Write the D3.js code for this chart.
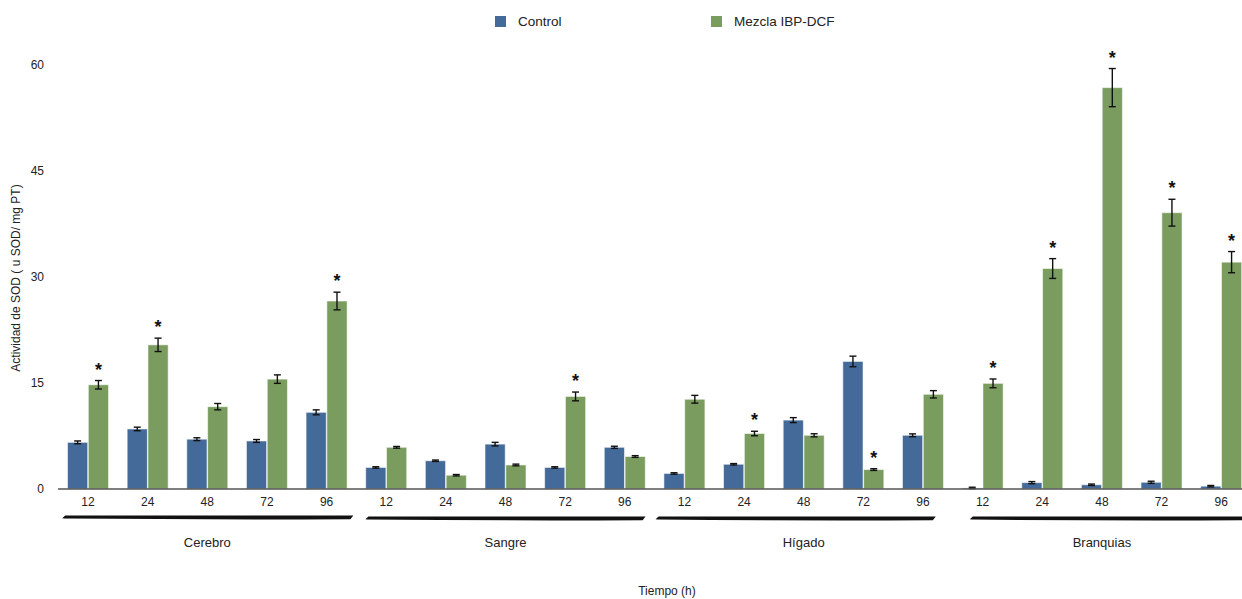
<!DOCTYPE html>
<html>
<head>
<meta charset="utf-8">
<script src="https://cdn.jsdelivr.net/npm/d3@7/dist/d3.min.js"></script>
<style>
  html, body { margin: 0; padding: 0; background: #fff; }
  svg { display: block; font-family: "Liberation Sans", Arial, Helvetica, sans-serif; }
</style>
</head>
<body>
<svg id="chart" width="1242" height="599"></svg>
<script>
// Tissues and sampling times (h)
const tissues = ["Cerebro", "Sangre", "Hígado", "Branquias"];
const times = ["12", "24", "48", "72", "96"];
const seriesNames = ["Control", "Mezcla IBP-DCF"];
const seriesColors = ["#436a99", "#7a9c5e"];

// SOD activity (u SOD / mg PT), ordered tissue by tissue, time by time
const controlValues = [6.6, 8.5, 7.05, 6.8, 10.85,
                       3.05, 4.0, 6.35, 3.05, 5.9,
                       2.2, 3.5, 9.75, 18.05, 7.6,
                       0.15, 0.9, 0.6, 0.95, 0.4];
const controlErrors = [0.2, 0.25, 0.2, 0.2, 0.35,
                       0.1, 0.1, 0.25, 0.1, 0.15,
                       0.1, 0.1, 0.35, 0.75, 0.2,
                       0.1, 0.15, 0.1, 0.15, 0.1];
const mezclaValues = [14.75, 20.4, 11.65, 15.55, 26.6,
                      5.9, 1.95, 3.4, 13.1, 4.6,
                      12.7, 7.85, 7.6, 2.75, 13.4,
                      14.95, 31.2, 56.8, 39.1, 32.1];
const mezclaErrors = [0.6, 0.95, 0.45, 0.6, 1.25,
                      0.12, 0.1, 0.12, 0.62, 0.12,
                      0.55, 0.32, 0.22, 0.12, 0.52,
                      0.62, 1.4, 2.7, 1.9, 1.5];
// Significant difference vs. control (asterisk over the treated bar)
const significant = [1, 1, 0, 0, 1,
                     0, 0, 0, 1, 0,
                     0, 1, 0, 1, 0,
                     1, 1, 1, 1, 1];
const yTicks = [0, 15, 30, 45, 60];

const svg = d3.select("#chart");

const categories = [];
tissues.forEach((t, ti) => times.forEach((h, hi) => {
  const i = ti * times.length + hi;
  categories.push({
    key: t + "-" + h, tissue: t, time: h,
    values: [
      { s: 0, v: controlValues[i], e: controlErrors[i], sig: 0 },
      { s: 1, v: mezclaValues[i], e: mezclaErrors[i], sig: significant[i] }
    ]
  });
}));

const x0 = d3.scaleBand().domain(categories.map(d => d.key)).range([58.2, 1251]);
const bw = x0.bandwidth();
const x1 = d3.scaleBand().domain([0, 1]).range([bw / 2 - 20.5, bw / 2 + 20.5]).paddingInner(0.03);
const y = d3.scaleLinear().domain([0, 60]).range([489, 65]);

// Y tick labels (no axis line)
const yAxis = d3.axisLeft(y).tickValues(yTicks).tickSize(0).tickPadding(0);
const yg = svg.append("g").attr("transform", "translate(44,0)").call(yAxis);
yg.select(".domain").remove();
yg.selectAll("text").attr("font-size", 12).attr("fill", "#222")
  .attr("font-family", "Liberation Sans, Arial, sans-serif");

// Bars
const catG = svg.selectAll("g.cat").data(categories).join("g")
  .attr("class", "cat")
  .attr("transform", d => `translate(${x0(d.key)},0)`);

catG.selectAll("rect").data(d => d.values).join("rect")
  .attr("x", d => x1(d.s))
  .attr("width", x1.bandwidth())
  .attr("y", d => y(d.v))
  .attr("height", d => y(0) - y(d.v))
  .attr("fill", d => seriesColors[d.s])
  .attr("stroke", "rgba(255,255,255,0.55)")
  .attr("stroke-width", 1);

// Error bars
const eb = catG.selectAll("g.err").data(d => d.values).join("g").attr("class", "err")
  .attr("stroke", "#111").attr("stroke-width", 1.4);
eb.append("line")
  .attr("x1", d => x1(d.s) + x1.bandwidth() / 2)
  .attr("x2", d => x1(d.s) + x1.bandwidth() / 2)
  .attr("y1", d => y(d.v + d.e)).attr("y2", d => y(Math.max(0, d.v - d.e)));
[1, -1].forEach(sign => {
  eb.append("line")
    .attr("x1", d => x1(d.s) + x1.bandwidth() / 2 - 3.5)
    .attr("x2", d => x1(d.s) + x1.bandwidth() / 2 + 3.5)
    .attr("y1", d => y(Math.max(0, d.v + sign * d.e)))
    .attr("y2", d => y(Math.max(0, d.v + sign * d.e)));
});

// Significance asterisks
catG.selectAll("text.sig").data(d => d.values.filter(v => v.sig)).join("text")
  .attr("class", "sig")
  .attr("x", d => x1(d.s) + x1.bandwidth() / 2)
  .attr("y", d => y(d.v + d.e) - 5)
  .attr("text-anchor", "middle")
  .attr("font-size", 18).attr("font-weight", "bold").attr("fill", "#111")
  .text("*");

// Baseline
svg.append("line").attr("x1", 58).attr("x2", 1242)
  .attr("y1", y(0)).attr("y2", y(0))
  .attr("stroke", "#555").attr("stroke-width", 1.5);

// Time tick labels
svg.append("g").selectAll("text").data(categories).join("text")
  .attr("x", d => x0(d.key) + bw / 2)
  .attr("y", 506)
  .attr("text-anchor", "middle")
  .attr("font-size", 12).attr("fill", "#222")
  .text(d => d.time);

// Tissue brackets (brush-like strokes with slanted ends) and labels
const bracketInset = [[4, 3], [9, 9], [1, 17], [17, 0]];
const bracketY = [517, 518, 518, 518];
tissues.forEach((t, ti) => {
  const first = x0(t + "-" + times[0]);
  const last = x0(t + "-" + times[times.length - 1]) + bw;
  const a = first + bracketInset[ti][0];
  const b = last - bracketInset[ti][1];
  const yb = bracketY[ti];
  const p = d3.path();
  p.moveTo(a + 3, yb - 1.6);
  p.lineTo(b, yb - 1.4);
  p.lineTo(b - 3, yb + 2.2);
  p.quadraticCurveTo((a + b) / 2, yb + 2.8, a + 2, yb + 1.6);
  p.lineTo(a, yb + 1.2);
  p.closePath();
  svg.append("path").attr("d", p.toString()).attr("fill", "#111");

  svg.append("text")
    .attr("x", (first + last) / 2)
    .attr("y", 547)
    .attr("text-anchor", "middle")
    .attr("font-size", 13).attr("fill", "#222")
    .text(t);
});

// Axis titles
svg.append("text")
  .attr("x", 667).attr("y", 595)
  .attr("text-anchor", "middle")
  .attr("font-size", 12).attr("fill", "#222")
  .text("Tiempo (h)");
svg.append("text")
  .attr("transform", "translate(20,278) rotate(-90)")
  .attr("text-anchor", "middle")
  .attr("font-size", 12).attr("fill", "#222")
  .text("Actividad de SOD ( u SOD/ mg PT)");

// Legend
const legendX = [495, 711];
const lg = svg.append("g").selectAll("g").data(seriesNames).join("g")
  .attr("transform", (d, i) => `translate(${legendX[i]},16)`);
lg.append("rect").attr("width", 11).attr("height", 11)
  .attr("fill", (d, i) => seriesColors[i]);
lg.append("text").attr("x", 23).attr("y", 10)
  .attr("font-size", 13.5).attr("fill", "#222")
  .text(d => d);
</script>
</body>
</html>
